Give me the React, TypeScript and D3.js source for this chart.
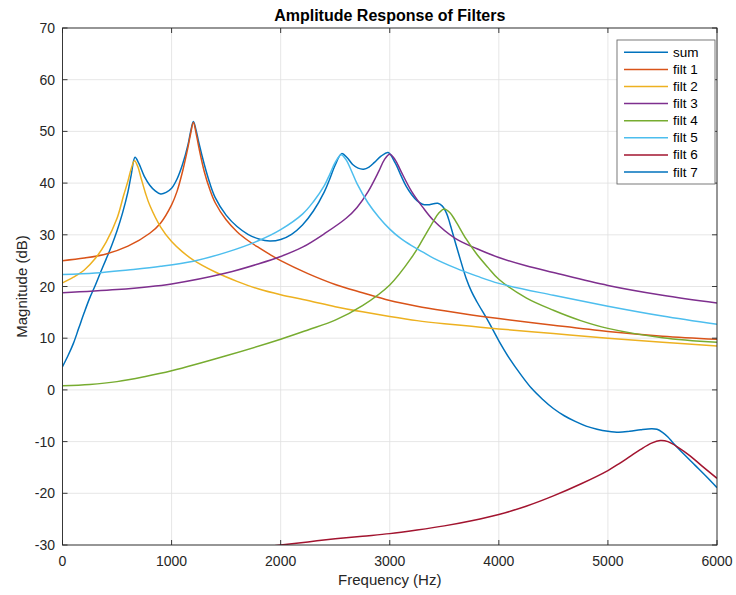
import React from 'react';
import * as d3 from 'd3';

type Pt = [number, number];

const xTicks = [0, 1000, 2000, 3000, 4000, 5000, 6000];
const yTicks = [-30, -20, -10, 0, 10, 20, 30, 40, 50, 60, 70];

const sumData: Pt[] = [
  [0, 4.5], [50, 6.6], [100, 9.0], [150, 12.0], [200, 15.0], [250, 17.8], [300, 20.2], [350, 22.8],
  [400, 25.3], [450, 27.9], [500, 30.8], [550, 34.2], [600, 38.3], [630, 41.6], [665, 45.0], [700, 43.8],
  [750, 41.3], [800, 39.6], [850, 38.5], [900, 37.9], [950, 38.2], [1000, 39.0], [1050, 40.8], [1100, 43.6],
  [1150, 47.4], [1175, 50.0], [1200, 51.9], [1225, 50.2], [1250, 47.8], [1300, 43.6], [1350, 40.0], [1400, 37.2],
  [1500, 33.8], [1600, 31.6], [1700, 30.1], [1800, 29.2], [1900, 28.8], [2000, 29.1], [2100, 30.1], [2200, 31.9],
  [2300, 34.6], [2400, 38.3], [2450, 40.8], [2500, 43.5], [2560, 45.7], [2610, 44.9], [2660, 43.6], [2710, 42.9],
  [2760, 42.7], [2810, 43.1], [2860, 44.0], [2920, 45.2], [2985, 45.9], [3050, 43.9], [3100, 41.6], [3150, 39.4],
  [3200, 37.8], [3250, 36.6], [3300, 35.9], [3350, 35.8], [3400, 36.0], [3440, 36.1], [3480, 35.6], [3520, 34.2],
  [3550, 32.3], [3600, 28.6], [3650, 25.0], [3700, 21.6], [3750, 19.0], [3800, 17.0], [3900, 13.4], [4000, 9.5],
  [4100, 6.0], [4200, 3.0], [4300, 0.3], [4400, -1.8], [4500, -3.6], [4600, -5.0], [4700, -6.1], [4800, -7.0],
  [4900, -7.6], [5000, -8.0], [5100, -8.2], [5200, -8.0], [5300, -7.7], [5400, -7.5], [5450, -7.6], [5500, -8.2],
  [5550, -9.1], [5600, -10.3], [5700, -12.5], [5800, -14.6], [5900, -16.7], [6000, -18.9],
];

const filt1Data: Pt[] = [
  [0, 25.0], [200, 25.5], [400, 26.3], [600, 27.8], [800, 30.3], [900, 32.3], [1000, 35.8], [1050, 38.4],
  [1100, 42.2], [1150, 46.9], [1175, 49.6], [1200, 51.7], [1225, 49.6], [1250, 46.9], [1300, 42.2], [1350, 38.8],
  [1400, 36.2], [1500, 32.9], [1600, 30.6], [1700, 28.9], [1800, 27.5], [1900, 26.2], [2000, 25.0], [2250, 22.5],
  [2500, 20.4], [2750, 18.8], [3000, 17.3], [3250, 16.2], [3500, 15.3], [3750, 14.5], [4000, 13.8], [4500, 12.5],
  [5000, 11.3], [5500, 10.4], [6000, 9.8],
];

const filt2Data: Pt[] = [
  [0, 20.7], [100, 21.8], [200, 23.2], [300, 25.4], [400, 28.6], [500, 33.2], [560, 37.6], [600, 40.4],
  [630, 42.8], [660, 44.3], [690, 43.2], [720, 41.0], [760, 38.1], [800, 35.7], [900, 31.5], [1000, 28.7],
  [1100, 26.7], [1200, 25.1], [1400, 22.8], [1600, 21.0], [1800, 19.5], [2000, 18.4], [2250, 17.3], [2500, 16.1],
  [2750, 15.1], [3000, 14.2], [3250, 13.4], [3500, 12.8], [3750, 12.3], [4000, 11.8], [4500, 10.9], [5000, 10.0],
  [5500, 9.2], [6000, 8.5],
];

const filt3Data: Pt[] = [
  [0, 18.8], [500, 19.4], [1000, 20.5], [1500, 22.6], [1800, 24.4], [2000, 25.8], [2200, 27.6], [2400, 30.2],
  [2600, 33.2], [2700, 35.3], [2800, 38.3], [2900, 42.3], [2950, 44.5], [3000, 45.6], [3050, 44.5], [3100, 42.4],
  [3200, 38.4], [3300, 35.4], [3400, 32.8], [3600, 29.3], [3800, 27.3], [4000, 25.6], [4250, 24.0], [4500, 22.7],
  [5000, 20.2], [5500, 18.3], [6000, 16.8],
];

const filt4Data: Pt[] = [
  [0, 0.8], [250, 1.05], [500, 1.6], [750, 2.55], [1000, 3.7], [1500, 6.6], [2000, 9.8], [2250, 11.6],
  [2500, 13.5], [2750, 16.3], [3000, 20.3], [3200, 25.6], [3300, 29.0], [3400, 32.6], [3450, 34.2], [3500, 35.0],
  [3550, 34.3], [3600, 32.8], [3700, 29.2], [3800, 26.2], [3900, 23.7], [4000, 21.4], [4250, 17.8], [4500, 15.4],
  [4750, 13.4], [5000, 11.9], [5500, 10.1], [6000, 9.2],
];

const filt5Data: Pt[] = [
  [0, 22.3], [300, 22.6], [600, 23.2], [900, 23.9], [1200, 24.9], [1500, 26.6], [1800, 28.9], [2000, 31.0],
  [2200, 34.0], [2300, 36.4], [2400, 39.5], [2450, 41.7], [2500, 44.0], [2555, 45.5], [2600, 44.5], [2650, 42.3],
  [2700, 39.9], [2800, 36.2], [2900, 33.4], [3000, 31.1], [3100, 29.3], [3200, 27.9], [3300, 26.7], [3400, 25.5],
  [3600, 23.6], [3800, 22.0], [4000, 20.6], [4500, 18.3], [5000, 16.2], [5500, 14.3], [6000, 12.7],
];

const filt6Data: Pt[] = [
  [1800, -30.5], [2000, -30.0], [2250, -29.4], [2500, -28.8], [2750, -28.3], [3000, -27.8], [3250, -27.1],
  [3500, -26.3], [3750, -25.3], [4000, -24.1], [4250, -22.5], [4500, -20.5], [4750, -18.2], [5000, -15.6],
  [5100, -14.3], [5200, -12.9], [5300, -11.5], [5400, -10.3], [5480, -9.8], [5550, -10.0], [5650, -11.2],
  [5750, -12.7], [5850, -14.5], [6000, -17.1],
];

const filt7Data: Pt[] = [];

const seriesNames = ['sum', 'filt 1', 'filt 2', 'filt 3', 'filt 4', 'filt 5', 'filt 6', 'filt 7'];
const seriesColors = ['#0072BD', '#D95319', '#EDB120', '#7E2F8E', '#77AC30', '#4DBEEE', '#A2142F', '#0072BD'];
const seriesData = [sumData, filt1Data, filt2Data, filt3Data, filt4Data, filt5Data, filt6Data, filt7Data];

const FONT = '"Liberation Sans", Arial, Helvetica, sans-serif';
const AX = '#262626';

export default function App() {
  const W = 736;
  const H = 595;
  const L = 62.5, R = 717, T = 28, B = 545;
  const x = d3.scaleLinear().domain([0, 6000]).range([L, R]);
  const y = d3.scaleLinear().domain([-30, 70]).range([B, T]);
  const line = d3
    .line<Pt>()
    .x((d) => x(d[0]))
    .y((d) => y(d[1]))
    .curve(d3.curveCatmullRom.alpha(0.5));
  const tick = 5;

  const legX = 617, legY = 40, legW = 98, legH = 144;
  const rowH = 17.1;

  return (
    <svg width={W} height={H} style={{ position: 'absolute', left: 0, top: 0, background: '#fff' }} fontFamily={FONT}>
      <defs>
        <clipPath id="plotclip">
          <rect x={L} y={T} width={R - L} height={B - T} />
        </clipPath>
      </defs>
      <rect x={0} y={0} width={W} height={H} fill="#fff" />
      {xTicks.map((t) => (
        <line key={'gx' + t} x1={x(t)} x2={x(t)} y1={T} y2={B} stroke="#dfdfdf" strokeWidth={0.8} />
      ))}
      {yTicks.map((t) => (
        <line key={'gy' + t} x1={L} x2={R} y1={y(t)} y2={y(t)} stroke="#dfdfdf" strokeWidth={0.8} />
      ))}
      <g clipPath="url(#plotclip)">
        {seriesData.map((d, i) =>
          d.length ? (
            <path key={'s' + i} d={line(d) || ''} fill="none" stroke={seriesColors[i]} strokeWidth={1.5} />
          ) : null
        )}
      </g>
      <rect x={L} y={T} width={R - L} height={B - T} fill="none" stroke={AX} strokeWidth={0.9} />
      {xTicks.map((t) => (
        <g key={'tx' + t}>
          <line x1={x(t)} x2={x(t)} y1={B} y2={B - tick} stroke={AX} strokeWidth={0.9} />
          <line x1={x(t)} x2={x(t)} y1={T} y2={T + tick} stroke={AX} strokeWidth={0.9} />
          <text x={x(t)} y={561} textAnchor="middle" dominantBaseline="central" fontSize={14} fill={AX}>
            {t}
          </text>
        </g>
      ))}
      {yTicks.map((t) => (
        <g key={'ty' + t}>
          <line x1={L} x2={L + tick} y1={y(t)} y2={y(t)} stroke={AX} strokeWidth={0.9} />
          <line x1={R} x2={R - tick} y1={y(t)} y2={y(t)} stroke={AX} strokeWidth={0.9} />
          <text x={55} y={y(t)} textAnchor="end" dominantBaseline="central" fontSize={14} fill={AX}>
            {t}
          </text>
        </g>
      ))}
      <text x={(L + R) / 2} y={15} textAnchor="middle" dominantBaseline="central" fontSize={16} fontWeight="bold" fill="#000">
        Amplitude Response of Filters
      </text>
      <text x={(L + R) / 2} y={579} textAnchor="middle" dominantBaseline="central" fontSize={15} fill={AX}>
        Frequency (Hz)
      </text>
      <text
        transform={`translate(21,${(T + B) / 2}) rotate(-90)`}
        textAnchor="middle"
        dominantBaseline="central"
        fontSize={15}
        fill={AX}
      >
        Magnitude (dB)
      </text>
      <rect x={legX} y={legY} width={legW} height={legH} fill="#fff" stroke="#6b6b6b" strokeWidth={0.9} />
      {seriesNames.map((n, i) => {
        const yy = legY + 12.3 + i * rowH;
        return (
          <g key={'lg' + i}>
            <line x1={624} x2={668} y1={yy} y2={yy} stroke={seriesColors[i]} strokeWidth={1.5} />
            <text x={673} y={yy} dominantBaseline="central" fontSize={13.5} fill="#000">
              {n}
            </text>
          </g>
        );
      })}
    </svg>
  );
}
